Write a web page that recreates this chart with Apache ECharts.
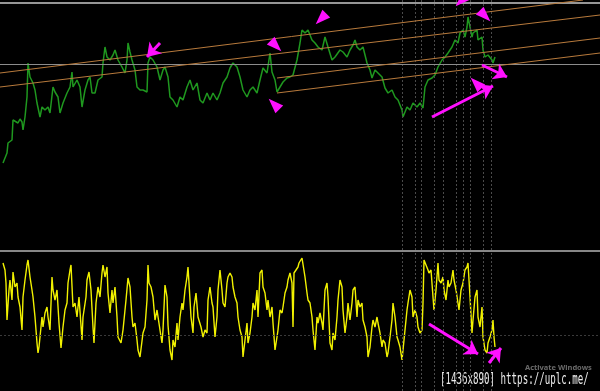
<!DOCTYPE html>
<html><head><meta charset="utf-8">
<script src="https://cdn.jsdelivr.net/npm/echarts@6/dist/echarts.min.js"></script>
<style>html,body{margin:0;padding:0;background:#000;}#c{width:600px;height:391px;}</style>
</head><body><div id="c"></div>
<script>
// price panel: [bar, price]
const pricePoints = [
[3,87],[5,92],[7,97],[8,107],[10,105],[12,110],[13,130],[15,132],[18,127],[20,131],
[22,128],[23,120],[25,133],[27,153],[28,187],[30,173],[32,172],[33,167],[35,160],[37,147],
[40,133],[42,143],[45,140],[48,143],[50,137],[53,163],[55,158],[57,157],[58,153],[60,137],
[63,147],[67,157],[70,163],[72,178],[73,163],[75,165],[77,170],[80,163],[82,143],[85,160],
[88,170],[90,173],[92,157],[95,157],[98,170],[102,173],[103,187],[105,203],[107,193],[110,190],
[113,195],[115,200],[118,190],[122,183],[125,177],[127,190],[128,207],[130,198],[132,190],[135,180],
[137,163],[140,160],[143,160],[147,158],[148,187],[150,193],[153,190],[157,183],[160,170],[163,180],
[165,183],[168,173],[170,153],[173,150],[177,143],[180,153],[183,150],[187,163],[190,170],[193,160],
[197,167],[200,150],[203,147],[207,157],[210,150],[213,157],[217,150],[220,157],[223,167],[227,173],
[230,182],[233,187],[237,183],[240,173],[243,160],[247,153],[250,160],[253,163],[257,157],[260,170],
[263,182],[267,177],[270,197],[272,178],[275,170],[277,158],[280,163],[283,168],[287,172],[290,173],
[293,175],[297,190],[300,207],[302,220],[305,217],[308,220],[312,210],[315,207],[318,203],[322,200],
[325,213],[328,203],[332,190],[335,193],[337,192],[340,200],[343,198],[347,193],[350,200],[353,205],
[355,210],[357,203],[360,200],[363,203],[365,195],[367,187],[370,180],[372,172],[375,180],[378,177],
[382,173],[385,162],[388,157],[392,160],[395,153],[398,150],[402,140],[403,133],[407,143],[410,140],
[413,147],[417,143],[420,147],[423,142],[425,163],[428,170],[432,172],[435,175],[438,183],[442,190],
[445,193],[448,197],[452,203],[455,210],[458,207],[460,217],[463,220],[465,213],[467,223],[468,233],
[470,223],[472,213],[473,217],[477,220],[478,210],[482,213],[483,200],[485,193],[488,195],[492,190],
[493,187],[495,193]
];
// oscillator panel: [bar, value]
const oscPoints = [
[3,128],[4,129],[5,121],[6,108],[7,71],[9,101],[10,111],[12,91],[13,119],[15,104],
[17,108],[18,94],[20,84],[22,61],[23,94],[25,111],[27,126],[28,131],[30,114],[32,101],
[33,94],[35,74],[37,48],[38,38],[39,44],[42,74],[43,64],[45,78],[47,84],[48,74],
[50,61],[52,114],[53,101],[55,91],[57,101],[59,68],[61,43],[63,64],[65,81],[67,88],
[68,108],[70,121],[71,126],[73,84],[75,88],[77,74],[79,94],[82,51],[83,74],[86,94],
[87,111],[89,119],[91,101],[93,64],[94,48],[96,88],[98,104],[100,94],[102,118],[103,126],
[105,114],[107,124],[108,98],[110,78],[112,101],[113,88],[115,104],[117,74],[118,54],[121,48],
[123,61],[126,91],[128,113],[130,104],[132,74],[133,64],[135,68],[137,51],[138,41],[140,34],
[143,58],[145,64],[147,91],[148,126],[149,108],[151,104],[153,94],[155,71],[157,81],[160,61],
[162,48],[163,61],[165,106],[167,94],[168,66],[170,41],[172,31],[173,51],[175,44],[177,68],
[178,51],[180,74],[182,88],[183,81],[185,101],[187,114],[188,124],[189,108],[191,74],[193,58],
[194,84],[196,98],[198,74],[201,64],[203,54],[205,61],[207,58],[208,91],[210,104],[212,88],
[213,84],[215,54],[217,74],[218,101],[220,121],[222,101],[223,88],[225,84],[227,108],[228,114],
[230,118],[232,114],[233,104],[235,94],[237,88],[238,74],[240,61],[242,54],[243,34],[245,51],
[247,68],[248,48],[250,58],[252,74],[253,88],[255,81],[257,101],[258,74],[260,118],[262,121],
[263,104],[265,98],[267,81],[268,91],[270,74],[272,84],[273,68],[275,41],[277,54],[278,61],
[280,81],[282,78],[283,84],[285,98],[287,104],[288,111],[290,118],[292,108],[293,64],[294,118],
[296,121],[298,124],[299,128],[302,133],[303,131],[305,114],[307,98],[308,91],[310,88],[312,74],
[313,61],[315,41],[317,74],[318,68],[320,78],[322,68],[323,61],[325,101],[327,108],[328,94],
[330,48],[332,41],[333,58],[335,51],[337,74],[338,91],[340,111],[342,104],[343,81],[345,58],
[347,74],[348,88],[350,71],[352,88],[353,101],[355,104],[357,74],[358,91],[360,84],[362,88],
[363,71],[365,64],[367,54],[368,34],[370,44],[372,64],[373,71],[375,64],[377,74],[378,68],
[380,58],[382,44],[383,51],[385,48],[387,34],[388,38],[390,54],[392,71],[393,88],[395,74],
[397,54],[398,51],[400,44],[402,31],[403,41],[405,61],[407,81],[408,88],[410,101],[412,94],
[413,74],[415,81],[417,74],[418,64],[420,58],[422,61],[423,88],[424,131],[426,133],[428,121],
[429,118],[431,121],[433,94],[434,81],[436,101],[438,128],[439,111],[441,108],[443,114],[444,101],
[446,91],[448,111],[449,104],[451,108],[453,121],[454,111],[456,101],[458,88],[459,81],[461,101],
[463,108],[465,121],[467,124],[468,128],[470,94],[472,58],[473,71],[475,94],[477,101],[478,74],
[480,64],[482,84],[483,54],[485,41],[487,38],[488,48],[490,54],[492,61],[493,71],[494,54],
[495,44]
];
// annotation data
const channelLines = [[[0,177],[583,250]],[[0,163],[600,235]],[[277,172],[600,212]],[[277,157],[600,197]]];
const priceLevel = 186;
const topBorderLevel = 247.5;
const oscLevel = 56;
const markerBars = [402,415,421,434,443,456,463,470,483,491];
const priceArrows = [[[160,207],[147,193]],[[482,185],[507,173]],[[432,133],[493,164]]];
const oscArrows = [[[429,67],[478,37]],[[489,28],[501,43]]];
const wedges = [[276,204,-135],[274,146,45],[321,231,135],[461,249,135],[485,234,-135],[476,167,45]];

const MAG = '#ff10ff';
const chart = echarts.init(document.getElementById('c'), null, {renderer:'canvas'});
const hidden = {show:false};
const option = {
  backgroundColor:'#000',
  animation:false,
  grid:[{left:0,right:0,top:0,height:250},{left:0,right:0,top:251,height:140}],
  xAxis:[
    {type:'value',gridIndex:0,min:0,max:600,show:false},
    {type:'value',gridIndex:1,min:0,max:600,position:'top',axisLine:{show:true,onZero:false,lineStyle:{color:'#b4b4b4',width:1.5}},axisTick:hidden,axisLabel:hidden,splitLine:hidden}
  ],
  yAxis:[
    {type:'value',gridIndex:0,min:0,max:250,show:false},
    {type:'value',gridIndex:1,min:0,max:140,show:false}
  ],
  series:[
    {type:'line',xAxisIndex:0,yAxisIndex:0,data:[],silent:true,
     markLine:{silent:true,symbol:'none',label:hidden,animation:false,
       lineStyle:{color:'#4a4a4a',type:[2,2],width:1},
       data:markerBars.map(b=>({xAxis:b})).concat([
         {yAxis:priceLevel,lineStyle:{color:'#8c8c8c',type:'solid',width:1}},
         {yAxis:topBorderLevel,lineStyle:{color:'#c8c8c8',type:'solid',width:1.5}}
       ])}},
    {type:'line',xAxisIndex:0,yAxisIndex:0,data:[],silent:true,
     markLine:{silent:true,symbol:'none',label:hidden,animation:false,
       lineStyle:{color:'#b87a3c',type:'solid',width:1},
       data:channelLines.map(l=>[{coord:l[0]},{coord:l[1]}])}},
    {type:'line',xAxisIndex:1,yAxisIndex:1,data:[],silent:true,
     markLine:{silent:true,symbol:'none',label:hidden,animation:false,
       lineStyle:{color:'#4a4a4a',type:[2,2],width:1},
       data:markerBars.map(b=>({xAxis:b})).concat([
         {yAxis:oscLevel,lineStyle:{color:'#3a3a3a',type:[2,2],width:1}}
       ])}},
    {type:'line',name:'Price',xAxisIndex:0,yAxisIndex:0,data:pricePoints,showSymbol:false,
     lineStyle:{color:'#1f981f',width:1.5},silent:true},
    {type:'line',name:'Oscillator',xAxisIndex:1,yAxisIndex:1,data:oscPoints,showSymbol:false,
     lineStyle:{color:'#f2f200',width:1.4},silent:true},
    {type:'line',xAxisIndex:0,yAxisIndex:0,data:[],silent:true,
     markLine:{silent:true,symbol:['none','arrow'],symbolSize:13,label:hidden,animation:false,
       lineStyle:{color:MAG,type:'solid',width:3},
       data:priceArrows.map(l=>[{coord:l[0]},{coord:l[1]}])},
     markPoint:{silent:true,symbol:'triangle',symbolSize:[11,15],label:hidden,animation:false,
       itemStyle:{color:MAG},
       data:wedges.map(w=>({coord:[w[0],w[1]],symbolRotate:w[2]}))}},
    {type:'line',xAxisIndex:1,yAxisIndex:1,data:[],silent:true,
     markLine:{silent:true,symbol:['none','arrow'],symbolSize:13,label:hidden,animation:false,
       lineStyle:{color:MAG,type:'solid',width:3},
       data:oscArrows.map(l=>[{coord:l[0]},{coord:l[1]}])}}
  ],
  graphic:[
    {type:'text',x:525,y:364,silent:true,style:{text:'Activate Windows',fill:'#6a6a6a',font:'bold 7.5px "Noto Sans"'}},
    {type:'text',x:440,y:373,scaleX:0.61,silent:true,style:{text:'[1436x890] https://uplc.me/',fill:'#ececec',font:'15px "DejaVu Sans Mono"'}}
  ]
};
chart.setOption(option);
</script></body></html>
